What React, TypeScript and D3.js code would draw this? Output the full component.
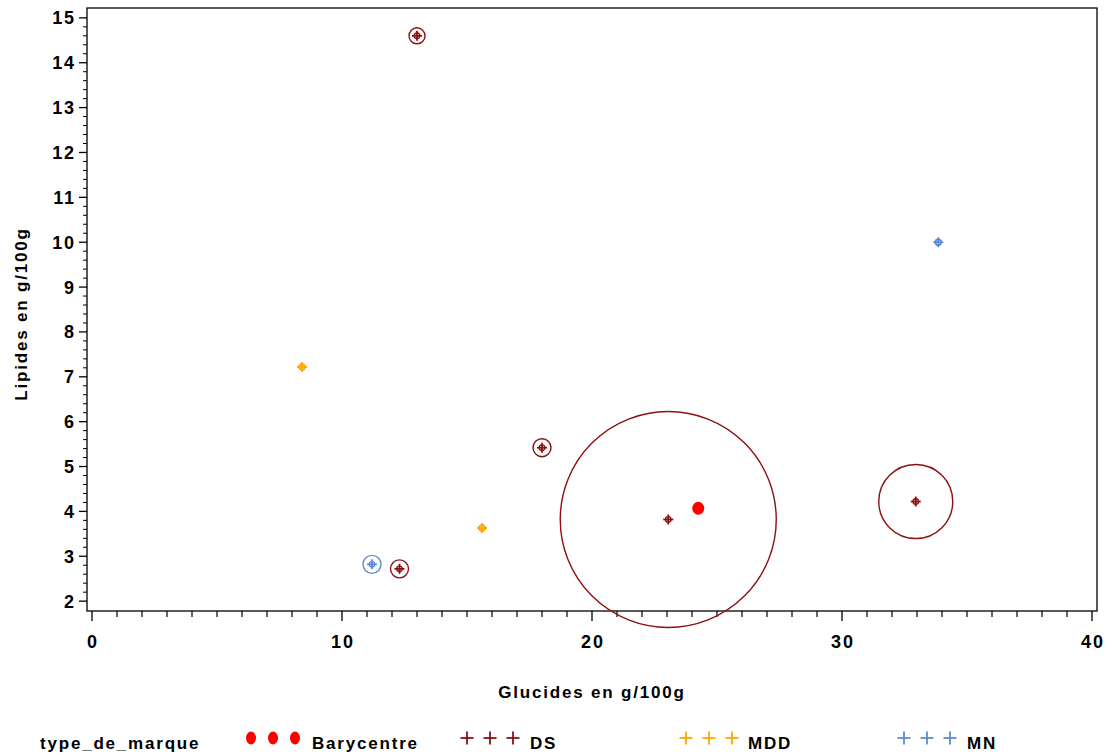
import React from "react";
import * as d3 from "d3";

const groups = ["Barycentre", "DS", "MDD", "MN"];
const groupColors = ["#FF0000", "#8B1010", "#FFA500", "#5B8BD4"];

// points
const pointGroup = ["DS", "DS", "DS", "DS", "DS", "MDD", "MDD", "MN", "MN"];
const glucides = [13.0, 18.0, 12.3, 23.05, 32.95, 8.4, 15.6, 33.85, 11.2];
const lipides = [14.6, 5.42, 2.72, 3.82, 4.22, 7.22, 3.63, 10.0, 2.82];
const bulle = [0.32, 0.36, 0.36, 4.32, 1.48, 0.12, 0.12, 0.12, 0.36];

const baryX = [24.25];
const baryY = [4.07];

const xTicks = [0, 10, 20, 30, 40];
const yTicks = [2, 3, 4, 5, 6, 7, 8, 9, 10, 11, 12, 13, 14, 15];

const W = 1112;
const H = 756;

export default function App() {
  const x = d3.scaleLinear().domain([-0.2, 40.2]).range([87, 1097]);
  const y = d3.scaleLinear().domain([1.78, 15.22]).range([611, 8]);
  const font = "'Liberation Sans', Arial, sans-serif";
  const color = (g: string) => groupColors[groups.indexOf(g)];
  const xMinor = d3.range(0, 41, 1).filter((v) => v % 10 !== 0);
  const yMinor = d3.range(2, 15.2, 0.2).filter((v) => Math.abs(v - Math.round(v)) > 0.01);
  const ls = 1.8;

  const plus = (cx: number, cy: number, c: string, s: number, key: string) => (
    <g key={key} stroke={c} strokeWidth={1.8}>
      <line x1={cx - s} x2={cx + s} y1={cy} y2={cy} />
      <line x1={cx} x2={cx} y1={cy - s} y2={cy + s} />
    </g>
  );

  const legendItems = [
    { g: "Barycentre", x0: 251, tx: 312 },
    { g: "DS", x0: 467, tx: 530 },
    { g: "MDD", x0: 686, tx: 748 },
    { g: "MN", x0: 904, tx: 967 },
  ];

  return (
    <svg
      width={W}
      height={H}
      style={{ position: "absolute", left: 0, top: 0, background: "#fff" }}
      fontFamily={font}
    >
      <rect x={0} y={0} width={W} height={H} fill="#fff" />
      {/* frame */}
      <rect x={87} y={8} width={1010} height={603} fill="none" stroke="#000" strokeWidth={1.3} />
      {/* x ticks */}
      {xTicks.map((t) => (
        <g key={"xt" + t}>
          <line x1={x(t)} x2={x(t)} y1={611} y2={621} stroke="#000" strokeWidth={1.3} />
          <text x={x(t) + ls / 2} y={648} textAnchor="middle" fontSize={18} fontWeight="bold" letterSpacing={ls}>
            {t}
          </text>
        </g>
      ))}
      {xMinor.map((t) => (
        <line key={"xm" + t} x1={x(t)} x2={x(t)} y1={611} y2={617} stroke="#000" strokeWidth={1.2} />
      ))}
      {/* y ticks */}
      {yTicks.map((t) => (
        <g key={"yt" + t}>
          <line x1={79} x2={87} y1={y(t)} y2={y(t)} stroke="#000" strokeWidth={1.3} />
          <text x={74 + ls} y={y(t) + 6.5} textAnchor="end" fontSize={18} fontWeight="bold" letterSpacing={ls}>
            {t}
          </text>
        </g>
      ))}
      {yMinor.map((t, i) => (
        <line key={"ym" + i} x1={83} x2={87} y1={y(t)} y2={y(t)} stroke="#000" strokeWidth={1} />
      ))}
      {/* axis titles */}
      <text x={592} y={698} textAnchor="middle" fontSize={17} fontWeight="bold" letterSpacing={ls}>
        Glucides en  g/100g
      </text>
      <text
        transform={`translate(27,${314}) rotate(-90)`}
        textAnchor="middle"
        fontSize={17}
        fontWeight="bold"
        letterSpacing={ls}
      >
        Lipides en  g/100g
      </text>
      {/* bubbles */}
      {glucides.map((gx, i) => {
        const c = color(pointGroup[i]);
        const r = x(bulle[i]) - x(0);
        const cx = x(gx);
        const cy = y(lipides[i]);
        return (
          <g key={"p" + i}>
            <circle cx={cx} cy={cy} r={r} fill="none" stroke={c} strokeWidth={1.4} />
            <circle cx={cx} cy={cy} r={2.8} fill="none" stroke={c} strokeWidth={1.3} />
            {plus(cx, cy, c, 5, "pl" + i)}
          </g>
        );
      })}
      {baryX.map((bx, i) => (
        <ellipse key={"b" + i} cx={x(bx)} cy={y(baryY[i])} rx={6} ry={6.5} fill={groupColors[0]} />
      ))}
      {/* legend */}
      <text x={40} y={749} fontSize={17} fontWeight="bold" letterSpacing={ls}>
        type_de_marque
      </text>
      {legendItems.map((it) => {
        const c = color(it.g);
        return (
          <g key={"lg" + it.g}>
            {[0, 1, 2].map((k) =>
              it.g === "Barycentre" ? (
                <ellipse key={k} cx={it.x0 + k * 22} cy={738} rx={5} ry={6.5} fill={c} />
              ) : (
                plus(it.x0 + k * 23, 738, c, 6.5, "lp" + it.g + k)
              )
            )}
            <text x={it.tx} y={749} fontSize={17} fontWeight="bold" letterSpacing={ls}>
              {it.g}
            </text>
          </g>
        );
      })}
    </svg>
  );
}
